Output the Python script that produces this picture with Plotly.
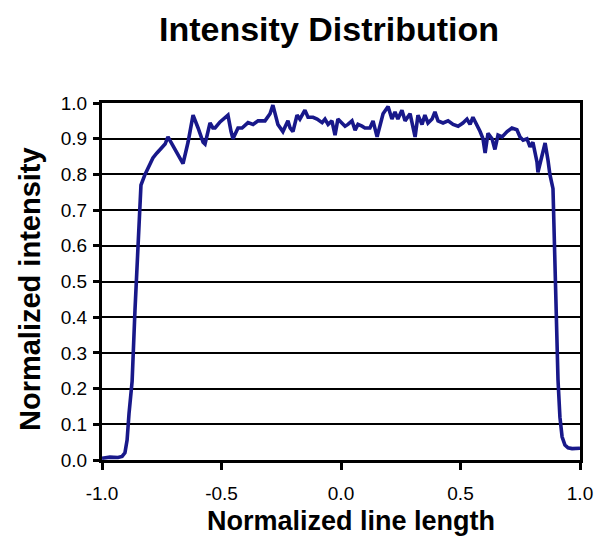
import plotly.graph_objects as go

title_text = "Intensity Distribution"
x_title = "Normalized line length"
y_title = "Normalized intensity"

line_length = [
    -1.000, -0.967, -0.933, -0.916, -0.904, -0.895, -0.887, -0.874, -0.862, -0.849,
    -0.837, -0.820, -0.803, -0.787, -0.770, -0.749, -0.736, -0.724, -0.695, -0.661,
    -0.640, -0.619, -0.598, -0.577, -0.569, -0.548, -0.536, -0.527, -0.506, -0.490,
    -0.473, -0.460, -0.452, -0.431, -0.414, -0.389, -0.368, -0.347, -0.318, -0.297,
    -0.285, -0.264, -0.243, -0.222, -0.213, -0.201, -0.184, -0.172, -0.151, -0.138,
    -0.117, -0.100, -0.079, -0.067, -0.054, -0.038, -0.025, -0.013, 0.004, 0.017,
    0.029, 0.046, 0.059, 0.071, 0.088, 0.100, 0.121, 0.134, 0.151, 0.163,
    0.176, 0.197, 0.213, 0.226, 0.238, 0.255, 0.268, 0.289, 0.310, 0.322,
    0.339, 0.351, 0.364, 0.381, 0.393, 0.406, 0.427, 0.448, 0.469, 0.490,
    0.510, 0.527, 0.540, 0.552, 0.569, 0.582, 0.594, 0.603, 0.615, 0.632,
    0.644, 0.657, 0.674, 0.695, 0.715, 0.736, 0.749, 0.762, 0.778, 0.791,
    0.803, 0.820, 0.824, 0.841, 0.854, 0.866, 0.874, 0.887, 0.895, 0.904,
    0.908, 0.916, 0.925, 0.937, 0.950, 0.967, 0.983, 1.000,
]

intensity = [
    0.005, 0.008, 0.007, 0.010, 0.020, 0.056, 0.13, 0.22, 0.42, 0.62,
    0.77, 0.80, 0.825, 0.846, 0.86, 0.877, 0.885, 0.905, 0.87, 0.83,
    0.89, 0.966, 0.93, 0.89, 0.885, 0.944, 0.93, 0.93, 0.947, 0.955,
    0.966, 0.92, 0.90, 0.93, 0.93, 0.945, 0.94, 0.95, 0.95, 0.97,
    0.994, 0.94, 0.92, 0.95, 0.93, 0.92, 0.966, 0.955, 0.98, 0.96,
    0.96, 0.955, 0.945, 0.955, 0.94, 0.95, 0.91, 0.955, 0.945, 0.935,
    0.94, 0.95, 0.924, 0.94, 0.935, 0.93, 0.93, 0.95, 0.905, 0.935,
    0.97, 0.99, 0.955, 0.975, 0.955, 0.98, 0.95, 0.97, 0.905, 0.966,
    0.94, 0.966, 0.944, 0.955, 0.975, 0.95, 0.944, 0.95, 0.94, 0.935,
    0.944, 0.955, 0.94, 0.96, 0.94, 0.92, 0.90, 0.86, 0.915, 0.90,
    0.87, 0.91, 0.905, 0.92, 0.93, 0.925, 0.905, 0.896, 0.90, 0.877,
    0.89, 0.835, 0.806, 0.854, 0.888, 0.84, 0.80, 0.76, 0.55, 0.35,
    0.224, 0.12, 0.065, 0.042, 0.034, 0.032, 0.032, 0.033,
]

x_ticks = [-1.0, -0.5, 0.0, 0.5, 1.0]
x_tick_labels = ["-1.0", "-0.5", "0.0", "0.5", "1.0"]
y_ticks = [0.0, 0.1, 0.2, 0.3, 0.4, 0.5, 0.6, 0.7, 0.8, 0.9, 1.0]
y_tick_labels = ["0.0", "0.1", "0.2", "0.3", "0.4", "0.5", "0.6", "0.7", "0.8", "0.9", "1.0"]

assert len(line_length) == len(intensity)

FONT = "Liberation Sans, Arial, Helvetica, sans-serif"
W, H = 601, 534
ML, MR, MT, MB = 94, 29, 95, 82
PW, PH = W - ML - MR, H - MT - MB

fig = go.Figure()
fig.add_trace(go.Scatter(
    x=line_length, y=intensity, mode="lines",
    line=dict(color="#18188a", width=3.6),
    showlegend=False, hoverinfo="skip",
))

fig.update_layout(
    width=W, height=H,
    margin=dict(l=ML, r=MR, t=MT, b=MB),
    paper_bgcolor="white", plot_bgcolor="white",
    title=dict(text="<b>" + title_text + "</b>", x=321 / W, xanchor="center",
               y=1 - 21 / H, yanchor="middle",
               font=dict(family=FONT, size=34, color="black")),
    font=dict(family=FONT, color="black"),
    annotations=[
        dict(
            text="<b>" + x_title + "</b>", xref="paper", yref="paper",
            x=(343 - ML) / PW, y=-(513 - (MT + PH)) / PH,
            xanchor="center", yanchor="middle", showarrow=False,
            font=dict(family=FONT, size=27, color="black"),
        ),
        dict(
            text="<b>" + y_title + "</b>", xref="paper", yref="paper",
            x=-(ML - 22) / PW, y=1 - (281 - MT) / PH, textangle=-90,
            xanchor="center", yanchor="middle", showarrow=False,
            font=dict(family=FONT, size=29, color="black"),
        ),
    ],
)

fig.update_xaxes(
    range=[-1.0, 1.0], tickvals=x_ticks, ticktext=x_tick_labels,
    showgrid=False, zeroline=False,
    showline=True, linecolor="black", linewidth=3, mirror=True,
    ticks="outside", ticklen=7, tickwidth=2.5, tickcolor="black",
    ticklabelstandoff=7,
    tickfont=dict(family=FONT, size=19, color="black"),
)
fig.update_yaxes(
    range=[0.0, 1.0], tickvals=y_ticks, ticktext=y_tick_labels,
    showgrid=True, gridcolor="black", gridwidth=1.6, zeroline=False,
    showline=True, linecolor="black", linewidth=3, mirror=True,
    ticks="outside", ticklen=6, tickwidth=2.5, tickcolor="black",
    ticklabelstandoff=2,
    tickfont=dict(family=FONT, size=19, color="black"),
)

fig.write_html("out.html")
